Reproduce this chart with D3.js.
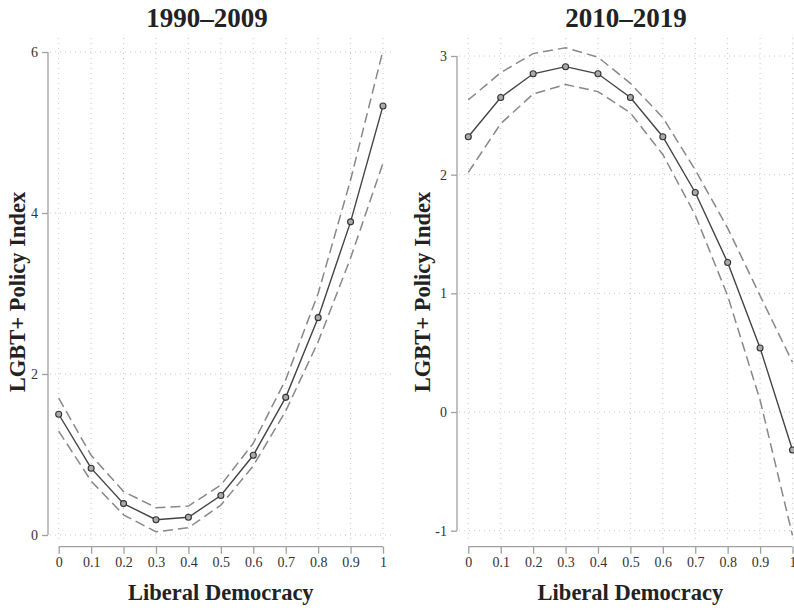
<!DOCTYPE html>
<html>
<head>
<meta charset="utf-8">
<script src="https://cdn.jsdelivr.net/npm/d3@7"></script>
<style>
  body { margin: 0; background: #fff; }
  svg { display: block; font-family: "Liberation Serif", "DejaVu Serif", serif; }
</style>
</head>
<body>
<svg id="chart" width="794" height="610"></svg>
<script>
// x values of the margins plot
var xValues = [0, 0.1, 0.2, 0.3, 0.4, 0.5, 0.6, 0.7, 0.8, 0.9, 1];
var xTickLabels = ["0", "0.1", "0.2", "0.3", "0.4", "0.5", "0.6", "0.7", "0.8", "0.9", "1"];

// 1990-2009
var est1990 = [1.50, 0.83, 0.39, 0.19, 0.22, 0.49, 0.99, 1.71, 2.70, 3.89, 5.33];
var upper1990 = [1.70, 0.99, 0.54, 0.34, 0.36, 0.62, 1.14, 1.93, 3.00, 4.41, 6.02];
var lower1990 = [1.29, 0.67, 0.25, 0.04, 0.09, 0.37, 0.86, 1.54, 2.40, 3.44, 4.62];
var yTicks1990 = [0, 2, 4, 6];

// 2010-2019
var est2010 = [2.32, 2.65, 2.85, 2.91, 2.85, 2.65, 2.32, 1.85, 1.26, 0.54, -0.32];
var upper2010 = [2.63, 2.86, 3.02, 3.07, 2.99, 2.77, 2.48, 2.04, 1.55, 0.98, 0.42];
var lower2010 = [2.02, 2.43, 2.68, 2.76, 2.70, 2.52, 2.17, 1.66, 0.98, 0.10, -1.04];
var yTicks2010 = [-1, 0, 1, 2, 3];

var titles = ["1990\u20132009", "2010\u20132019"];

var svg = d3.select("#chart");

function drawPanel(opt) {
  var g = svg.append("g");

  var x = d3.scaleLinear().domain([0, 1]).range([opt.x0, opt.x1]);
  var y = d3.scaleLinear().domain(opt.yDomain).range([opt.yBottom, opt.yTop]);

  // grid
  g.selectAll(".vgrid")
    .data(xValues)
    .enter()
    .append("line")
    .attr("x1", d => x(d))
    .attr("x2", d => x(d))
    .attr("y1", opt.plotTop)
    .attr("y2", opt.plotBottom)
    .style("stroke", "#c8c8c8")
    .style("stroke-width", 1)
    .style("stroke-dasharray", "1,4");

  g.selectAll(".hgrid")
    .data(opt.yTicks)
    .enter()
    .append("line")
    .attr("x1", opt.axisX + 2)
    .attr("x2", opt.plotRight)
    .attr("y1", d => y(d))
    .attr("y2", d => y(d))
    .style("stroke", "#c8c8c8")
    .style("stroke-width", 1)
    .style("stroke-dasharray", "1,4");

  // y axis
  var yAxis = d3.axisLeft(y).tickValues(opt.yTicks).tickSize(6).tickSizeOuter(0).tickPadding(4)
    .tickFormat(d => String(d));
  var ya = g.append("g")
    .attr("transform", "translate(" + opt.axisX + ",0)")
    .call(yAxis);
  ya.select(".domain").remove();
  ya.append("line")
    .attr("y1", y(opt.yTicks[0]))
    .attr("y2", y(opt.yTicks[opt.yTicks.length - 1]))
    .style("stroke", "#a0a0a0")
    .style("stroke-width", 1.3);

  // x axis
  var xAxis = d3.axisBottom(x).tickValues(xValues).tickSize(7).tickSizeOuter(0).tickPadding(3)
    .tickFormat((d, i) => xTickLabels[i]);
  var xa = g.append("g")
    .attr("transform", "translate(0," + opt.axisY + ")")
    .call(xAxis);
  xa.select(".domain").remove();
  xa.append("line")
    .attr("x1", x(0))
    .attr("x2", x(1))
    .style("stroke", "#a0a0a0")
    .style("stroke-width", 1.3);

  [ya, xa].forEach(a => {
    a.selectAll(".tick line").style("stroke", "#a0a0a0").style("stroke-width", 1.3);
    a.selectAll("text")
      .style("font-family", "Liberation Serif, serif")
      .style("font-size", "14px")
      .style("fill", "#333");
  });

  // CI lines
  var line = d3.line().x((d, i) => x(xValues[i])).y(d => y(d));
  [opt.upper, opt.lower].forEach(s => {
    g.append("path")
      .attr("d", line(s))
      .style("fill", "none")
      .style("stroke", "#888")
      .style("stroke-width", 1.5)
      .style("stroke-dasharray", "10,5");
  });

  // estimate
  g.append("path")
    .attr("d", line(opt.est))
    .style("fill", "none")
    .style("stroke", "#444")
    .style("stroke-width", 1.4);

  g.selectAll(".pt")
    .data(opt.est)
    .enter()
    .append("circle")
    .attr("cx", (d, i) => x(xValues[i]))
    .attr("cy", d => y(d))
    .attr("r", 3)
    .style("fill", "#aaa")
    .style("stroke", "#333")
    .style("stroke-width", 1.1);

  // titles
  g.append("text")
    .attr("x", opt.titleX)
    .attr("y", 27)
    .attr("text-anchor", "middle")
    .style("font-size", "27px")
    .style("font-weight", "bold")
    .style("fill", "#222")
    .text(opt.title);

  g.append("text")
    .attr("x", (x(0) + x(1)) / 2)
    .attr("y", 600)
    .attr("text-anchor", "middle")
    .style("font-size", "22.5px")
    .style("font-weight", "bold")
    .style("fill", "#222")
    .text("Liberal Democracy");

  g.append("text")
    .attr("transform", "translate(" + opt.yLabelX + "," + opt.yLabelY + ") rotate(-90)")
    .attr("text-anchor", "middle")
    .style("font-size", "22.5px")
    .style("font-weight", "bold")
    .style("fill", "#222")
    .text("LGBT+ Policy Index");
}

drawPanel({
  x0: 58.7, x1: 383, yDomain: [0, 6], yBottom: 535, yTop: 52,
  plotTop: 38, plotBottom: 541, plotRight: 393, axisX: 48, axisY: 546.7,
  yTicks: yTicks1990, est: est1990, upper: upper1990, lower: lower1990,
  title: titles[0], titleX: 207, yLabelX: 25, yLabelY: 292
});

drawPanel({
  x0: 468.3, x1: 792.5, yDomain: [-1, 3], yBottom: 530.7, yTop: 56,
  plotTop: 38, plotBottom: 541, plotRight: 800, axisX: 457, axisY: 546.7,
  yTicks: yTicks2010, est: est2010, upper: upper2010, lower: lower2010,
  title: titles[1], titleX: 626, yLabelX: 430, yLabelY: 292
});
</script>
</body>
</html>
